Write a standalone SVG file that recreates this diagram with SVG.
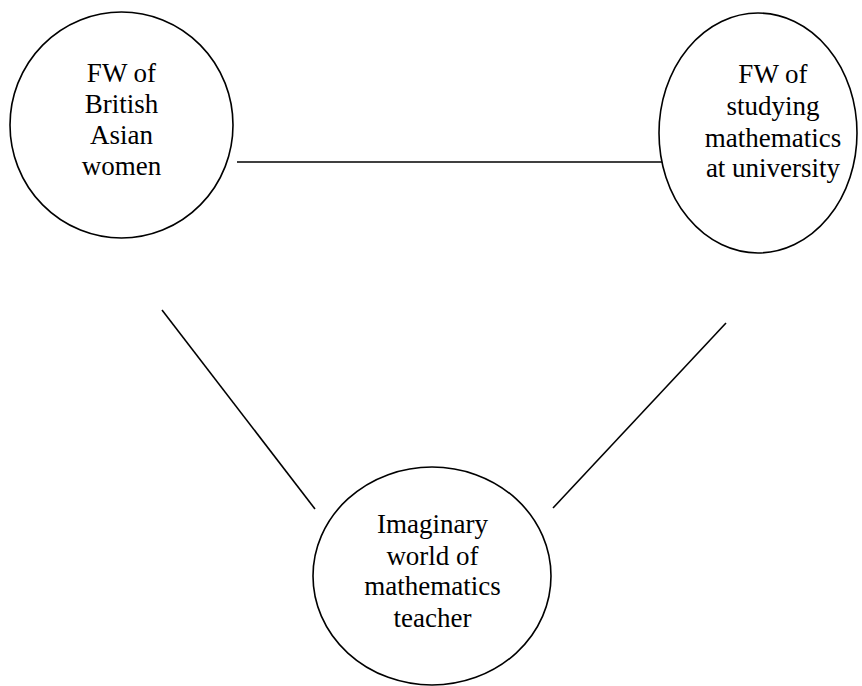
<svg xmlns="http://www.w3.org/2000/svg" width="862" height="686" viewBox="0 0 862 686">
<style>
.node{fill:#fff;stroke:#000;stroke-width:1.6}
.conn line{stroke:#000;stroke-width:1.6}
text{font-family:"Liberation Serif","Times New Roman",serif;font-size:27px;fill:#000;text-anchor:middle}
</style>
<rect width="862" height="686" fill="#fff"/>
<g id="connectors" class="conn">
<line x1="237" y1="162" x2="663" y2="162"/>
<line x1="162" y1="310" x2="315" y2="509"/>
<line x1="726" y1="323" x2="553" y2="508"/>
</g>
<g id="node-british-asian-women">
<ellipse class="node" cx="121.5" cy="125" rx="111.5" ry="113"/>
<text x="121.5" y="82">FW of</text>
<text x="121.5" y="113">British</text>
<text x="121.5" y="144">Asian</text>
<text x="121.5" y="175">women</text>
</g>
<g id="node-studying-mathematics">
<ellipse class="node" cx="758" cy="133" rx="99" ry="120"/>
<text x="773" y="83">FW of</text>
<text x="773" y="115">studying</text>
<text x="773" y="147">mathematics</text>
<text x="773" y="177">at university</text>
</g>
<g id="node-imaginary-world">
<ellipse class="node" cx="432" cy="576" rx="119" ry="109"/>
<text x="432.5" y="533">Imaginary</text>
<text x="432.5" y="565">world of</text>
<text x="432.5" y="595">mathematics</text>
<text x="432.5" y="627">teacher</text>
</g>
</svg>
